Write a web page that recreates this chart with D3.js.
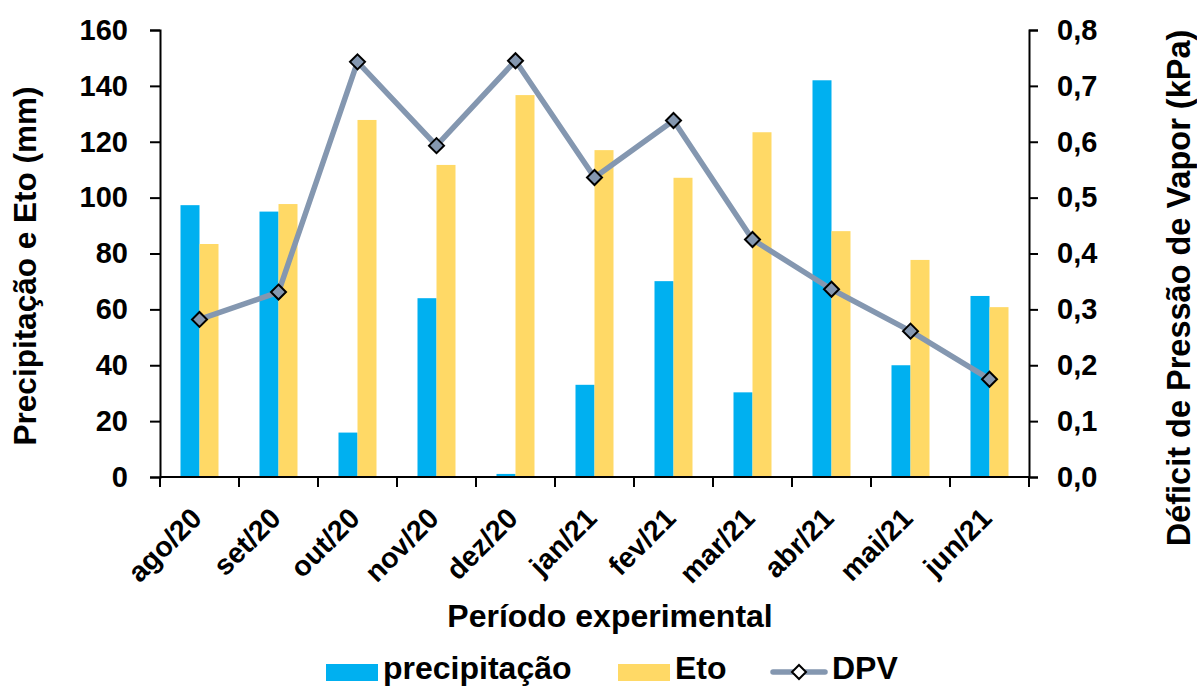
<!DOCTYPE html>
<html>
<head>
<meta charset="utf-8">
<script src="https://cdn.jsdelivr.net/npm/d3@7"></script>
<style>
  body { margin: 0; background: #fff; }
  text { font-family: "Liberation Sans", Arial, sans-serif; font-weight: bold; fill: #000; }
</style>
</head>
<body>
<div id="chart"></div>
<script>
// data
const months = ["ago/20", "set/20", "out/20", "nov/20", "dez/20", "jan/21", "fev/21", "mar/21", "abr/21", "mai/21", "jun/21"];
const precipitacao = [97.3, 95, 15.9, 64, 1.1, 33, 70.1, 30.3, 142, 40, 64.8];
const eto = [83.4, 97.7, 127.8, 111.7, 136.7, 117, 107.1, 123.4, 88, 77.7, 60.8];
const dpv = [0.282, 0.331, 0.743, 0.593, 0.745, 0.536, 0.638, 0.425, 0.336, 0.261, 0.175];
const leftTicks = [0, 20, 40, 60, 80, 100, 120, 140, 160];
const rightTicks = [0, 0.1, 0.2, 0.3, 0.4, 0.5, 0.6, 0.7, 0.8];

const width = 1197, height = 688;
const margin = { top: 30, right: 168, bottom: 211, left: 160 };
const innerW = width - margin.left - margin.right;
const innerH = height - margin.top - margin.bottom;

const blue = "#00B0F0", yellow = "#FFD966", lineColor = "#8497B0";
const fontFam = '"Liberation Sans", Arial, sans-serif';

const svg = d3.select("#chart").append("svg")
  .attr("width", width).attr("height", height);

const g = svg.append("g").attr("transform", `translate(${margin.left},${margin.top})`);

const x = d3.scaleBand().domain(months).range([0, innerW]);
const xSub = d3.scaleBand().domain(["p", "e"]).range([0, 38]);
const barOffset = (x.bandwidth() - 38) / 2;

const yL = d3.scaleLinear().domain([0, 160]).range([innerH, 0]);
const yR = d3.scaleLinear().domain([0, 0.8]).range([innerH, 0]);

// bars
const groups = g.selectAll(".grp").data(months).join("g")
  .attr("transform", d => `translate(${x(d) + barOffset},0)`);

groups.append("rect")
  .attr("x", xSub("p")).attr("width", xSub.bandwidth())
  .attr("y", (d, i) => yL(precipitacao[i]))
  .attr("height", (d, i) => innerH - yL(precipitacao[i]))
  .attr("fill", blue);

groups.append("rect")
  .attr("x", xSub("e")).attr("width", xSub.bandwidth())
  .attr("y", (d, i) => yL(eto[i]))
  .attr("height", (d, i) => innerH - yL(eto[i]))
  .attr("fill", yellow);

// axes
const fmtR = d => d3.format(".1f")(d).replace(".", ",");

const axL = g.append("g").call(d3.axisLeft(yL).tickValues(leftTicks).tickSize(10).tickPadding(22));
const axR = g.append("g").attr("transform", `translate(${innerW},0)`)
  .call(d3.axisRight(yR).tickValues(rightTicks).tickFormat(fmtR).tickSize(9).tickPadding(19));
const axB = g.append("g").attr("transform", `translate(0,${innerH})`)
  .call(d3.axisBottom(x).tickSize(0).tickFormat(""));

[axL, axR, axB].forEach(a => {
  a.select(".domain").attr("stroke", "#000").attr("stroke-width", 2);
  a.selectAll(".tick line").attr("stroke", "#000").attr("stroke-width", 2);
  a.selectAll(".tick text").attr("font-size", 29).attr("font-family", fontFam).attr("font-weight", "bold");
});
axB.select(".domain").attr("d", `M0,0H${innerW}`);

// x ticks at category boundaries
const bounds = months.map(d => x(d)).concat([innerW]);
axB.selectAll(".bound").data(bounds).join("line")
  .attr("x1", d => d).attr("x2", d => d)
  .attr("y1", 0).attr("y2", 10)
  .attr("stroke", "#000").attr("stroke-width", 2);

// rotated month labels
axB.selectAll(".mlab").data(months).join("text")
  .attr("class", "mlab")
  .attr("transform", d => `translate(${x(d) + x.bandwidth() / 2 + 4},${43}) rotate(-45)`)
  .attr("text-anchor", "end")
  .attr("font-size", 28.5)
  .text(d => d);

// DPV line
const lineGen = d3.line()
  .x((d, i) => x(months[i]) + x.bandwidth() / 2)
  .y(d => yR(d));

g.append("path").datum(dpv)
  .attr("d", lineGen)
  .attr("fill", "none")
  .attr("stroke", lineColor)
  .attr("stroke-width", 5.5)
  .attr("stroke-linejoin", "round");

const diamond = s => `M0,${-s}L${s},0L0,${s}L${-s},0Z`;
g.selectAll(".mk").data(dpv).join("path")
  .attr("transform", (d, i) => `translate(${x(months[i]) + x.bandwidth() / 2},${yR(d)})`)
  .attr("d", diamond(7.5))
  .attr("fill", lineColor)
  .attr("stroke", "#000")
  .attr("stroke-width", 2);

// axis titles
svg.append("text")
  .attr("transform", `translate(36,266) rotate(-90)`)
  .attr("text-anchor", "middle")
  .attr("font-size", 31.5)
  .text("Precipitação e Eto (mm)");

svg.append("text")
  .attr("transform", `translate(1190,288) rotate(-90)`)
  .attr("text-anchor", "middle")
  .attr("font-size", 32.5)
  .text("Déficit de Pressão de Vapor (kPa)");

svg.append("text")
  .attr("x", 610).attr("y", 627)
  .attr("text-anchor", "middle")
  .attr("font-size", 32)
  .text("Período experimental");

// legend
const legend = svg.append("g");
legend.append("rect").attr("x", 326).attr("y", 664).attr("width", 52).attr("height", 17).attr("fill", blue);
legend.append("text").attr("x", 383).attr("y", 679).attr("font-size", 32).text("precipitação");
legend.append("rect").attr("x", 618).attr("y", 664).attr("width", 52).attr("height", 17).attr("fill", yellow);
legend.append("text").attr("x", 675).attr("y", 679).attr("font-size", 32).text("Eto");
legend.append("line").attr("x1", 773).attr("x2", 825).attr("y1", 672).attr("y2", 672)
  .attr("stroke", lineColor).attr("stroke-width", 5.5).attr("stroke-linecap", "round");
legend.append("path").attr("transform", "translate(799,672)").attr("d", diamond(7))
  .attr("fill", "#fff").attr("stroke", "#000").attr("stroke-width", 2);
legend.append("text").attr("x", 832).attr("y", 679).attr("font-size", 32).text("DPV");
</script>
</body>
</html>
